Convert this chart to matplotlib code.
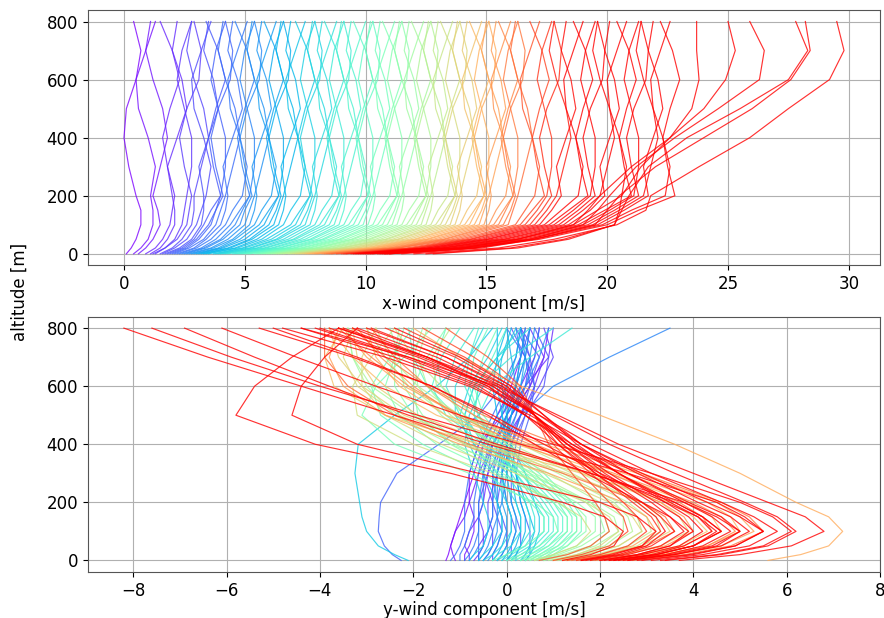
import numpy as np
import matplotlib
matplotlib.use("Agg")
import matplotlib.pyplot as plt
from matplotlib import colors

# altitude levels of the profiles [m]
altitude = [0, 20, 50, 100, 150, 200, 300, 400, 500, 600, 700, 800]

# x-wind component profiles [m/s], one row per profile, grouped by speed
x_purple = [
    [0.1, 0.3, 0.5, 0.7, 0.7, 0.5, 0.2, 0.0, 0.1, 0.5, 0.7, 0.4],
    [0.4, 0.7, 1.0, 1.2, 1.2, 1.1, 1.3, 1.0, 0.6, 0.5, 0.9, 1.3],
    [0.6, 0.9, 1.2, 1.5, 1.4, 1.2, 1.5, 1.8, 1.6, 1.2, 0.9, 1.1],
    [0.9, 1.3, 1.6, 1.9, 2.0, 2.1, 1.8, 1.6, 1.9, 2.3, 2.0, 1.5],
    [1.1, 1.5, 1.8, 2.1, 2.1, 2.0, 1.8, 2.2, 2.6, 2.4, 2.0, 2.2],
    [1.3, 1.7, 2.1, 2.4, 2.5, 2.6, 2.8, 2.8, 2.5, 2.2, 2.4, 2.8],
    [1.2, 1.7, 2.2, 2.6, 2.7, 2.8, 2.5, 2.3, 2.6, 3.1, 3.2, 2.9],
    [1.5, 2.0, 2.4, 2.8, 2.9, 2.9, 3.2, 3.5, 3.3, 2.9, 2.6, 2.8],
    [1.6, 2.1, 2.6, 3.0, 3.2, 3.4, 3.6, 3.3, 2.9, 2.8, 3.2, 3.6],
    [1.7, 2.3, 2.8, 3.2, 3.3, 3.3, 3.1, 3.5, 3.9, 3.7, 3.3, 3.5],
    [1.8, 2.4, 2.9, 3.3, 3.6, 4.0, 3.7, 3.5, 3.8, 4.2, 3.9, 3.4],
    [1.9, 2.5, 3.0, 3.5, 3.8, 4.0, 4.2, 4.2, 3.9, 3.6, 3.8, 4.2],
]
x_blue = [
    [2.0, 2.6, 3.1, 3.6, 3.8, 4.1, 3.8, 3.6, 3.9, 4.4, 4.5, 4.2],
    [2.1, 2.7, 3.3, 3.8, 4.0, 4.2, 4.5, 4.8, 4.6, 4.2, 3.9, 4.1],
    [2.2, 2.9, 3.4, 4.0, 4.2, 4.3, 4.1, 4.5, 4.9, 4.7, 4.3, 4.5],
    [2.3, 3.0, 3.6, 4.2, 4.5, 4.9, 5.1, 4.8, 4.4, 4.3, 4.7, 5.1],
    [2.4, 3.2, 3.8, 4.4, 4.8, 5.2, 4.9, 4.7, 5.0, 5.4, 5.1, 4.6],
    [2.5, 3.3, 4.0, 4.6, 4.9, 5.2, 5.4, 5.4, 5.1, 4.8, 5.0, 5.4],
    [2.6, 3.4, 4.1, 4.8, 5.0, 5.3, 5.0, 4.8, 5.1, 5.6, 5.7, 5.4],
    [2.7, 3.6, 4.3, 5.0, 5.2, 5.4, 5.7, 6.0, 5.8, 5.4, 5.1, 5.3],
    [2.8, 3.7, 4.5, 5.2, 5.4, 5.5, 5.3, 5.7, 6.1, 5.9, 5.5, 5.7],
    [2.9, 3.9, 4.6, 5.4, 5.7, 6.1, 6.3, 6.0, 5.6, 5.5, 5.9, 6.3],
    [3.0, 4.0, 4.8, 5.6, 6.0, 6.4, 6.1, 5.9, 6.2, 6.6, 6.3, 5.8],
    [3.1, 4.1, 5.0, 5.8, 6.1, 6.4, 6.6, 6.6, 6.3, 6.0, 6.2, 6.6],
    [3.2, 4.3, 5.2, 6.0, 6.3, 6.5, 6.2, 6.0, 6.3, 6.8, 6.9, 6.6],
    [3.3, 4.4, 5.3, 6.2, 6.4, 6.6, 6.9, 7.2, 7.0, 6.6, 6.3, 6.5],
    [3.4, 4.6, 5.5, 6.4, 6.6, 6.7, 6.5, 6.9, 7.3, 7.1, 6.7, 6.9],
    [3.5, 4.7, 5.7, 6.6, 6.9, 7.3, 7.5, 7.2, 6.8, 6.7, 7.1, 7.5],
]
x_cyan = [
    [3.7, 4.9, 5.9, 6.9, 7.3, 7.7, 7.4, 7.2, 7.5, 7.9, 7.6, 7.1],
    [3.8, 5.0, 6.1, 7.1, 7.4, 7.7, 7.9, 7.9, 7.6, 7.3, 7.5, 7.9],
    [3.9, 5.2, 6.3, 7.3, 7.6, 7.8, 7.5, 7.3, 7.6, 8.1, 8.2, 7.9],
    [4.0, 5.3, 6.4, 7.5, 7.7, 7.9, 8.2, 8.5, 8.3, 7.9, 7.6, 7.8],
    [4.1, 5.5, 6.6, 7.7, 7.9, 8.0, 7.8, 8.2, 8.6, 8.4, 8.0, 8.2],
    [4.2, 5.6, 6.8, 7.9, 8.2, 8.6, 8.8, 8.5, 8.1, 8.0, 8.4, 8.8],
    [4.3, 5.8, 7.0, 8.1, 8.5, 8.9, 8.6, 8.4, 8.7, 9.1, 8.8, 8.3],
    [4.5, 5.9, 7.1, 8.3, 8.6, 8.9, 9.1, 9.1, 8.8, 8.5, 8.7, 9.1],
    [4.6, 6.1, 7.3, 8.5, 8.8, 9.0, 8.7, 8.5, 8.8, 9.3, 9.4, 9.1],
    [4.7, 6.2, 7.5, 8.7, 8.9, 9.1, 9.4, 9.7, 9.5, 9.1, 8.8, 9.0],
    [4.8, 6.4, 7.7, 8.9, 9.1, 9.2, 9.0, 9.4, 9.8, 9.6, 9.2, 9.4],
    [4.9, 6.5, 7.8, 9.1, 9.4, 9.8, 10.0, 9.7, 9.3, 9.2, 9.6, 10.0],
    [5.0, 6.7, 8.0, 9.3, 9.7, 10.1, 9.8, 9.6, 9.9, 10.3, 10.0, 9.5],
    [5.1, 6.8, 8.2, 9.5, 9.8, 10.1, 10.3, 10.3, 10.0, 9.7, 9.9, 10.3],
    [5.2, 7.0, 8.3, 9.7, 10.0, 10.2, 9.9, 9.7, 10.0, 10.5, 10.6, 10.3],
    [5.4, 7.1, 8.5, 9.9, 10.1, 10.3, 10.6, 10.9, 10.7, 10.3, 10.0, 10.2],
]
x_green = [
    [5.5, 7.3, 8.7, 10.1, 10.3, 10.4, 10.2, 10.6, 11.0, 10.8, 10.4, 10.6],
    [5.6, 7.4, 8.9, 10.3, 10.6, 11.0, 11.2, 10.9, 10.5, 10.4, 10.8, 11.2],
    [5.7, 7.6, 9.0, 10.5, 10.9, 11.3, 11.0, 10.8, 11.1, 11.5, 11.2, 10.7],
    [5.8, 7.7, 9.2, 10.7, 11.0, 11.3, 11.5, 11.5, 11.2, 10.9, 11.1, 11.5],
    [5.9, 7.9, 9.4, 10.9, 11.2, 11.4, 11.1, 10.9, 11.2, 11.7, 11.8, 11.5],
    [6.0, 8.0, 9.5, 11.1, 11.3, 11.5, 11.8, 12.1, 11.9, 11.5, 11.2, 11.4],
    [6.1, 8.1, 9.7, 11.3, 11.5, 11.6, 11.4, 11.8, 12.2, 12.0, 11.6, 11.8],
    [6.2, 8.3, 9.9, 11.5, 11.8, 12.2, 12.4, 12.1, 11.7, 11.6, 12.0, 12.4],
    [6.3, 8.4, 10.1, 11.7, 12.1, 12.5, 12.2, 12.0, 12.3, 12.7, 12.4, 11.9],
    [6.4, 8.6, 10.2, 11.9, 12.2, 12.5, 12.7, 12.7, 12.4, 12.1, 12.3, 12.7],
    [6.5, 8.7, 10.4, 12.1, 12.4, 12.6, 12.3, 12.1, 12.4, 12.9, 13.0, 12.7],
    [6.6, 8.9, 10.6, 12.3, 12.5, 12.7, 13.0, 13.3, 13.1, 12.7, 12.4, 12.6],
    [6.8, 9.0, 10.8, 12.5, 12.7, 12.8, 12.6, 13.0, 13.4, 13.2, 12.8, 13.0],
    [6.9, 9.1, 10.9, 12.7, 13.0, 13.4, 13.6, 13.3, 12.9, 12.8, 13.2, 13.6],
    [7.0, 9.3, 11.1, 12.9, 13.3, 13.7, 13.4, 13.2, 13.5, 13.9, 13.6, 13.1],
    [7.1, 9.4, 11.3, 13.1, 13.4, 13.7, 13.9, 13.9, 13.6, 13.3, 13.5, 13.9],
]
x_orange = [
    [7.2, 9.6, 11.4, 13.3, 13.6, 13.8, 13.5, 13.3, 13.6, 14.1, 14.2, 13.9],
    [7.3, 9.7, 11.6, 13.5, 13.7, 13.9, 14.2, 14.5, 14.3, 13.9, 13.6, 13.8],
    [7.4, 9.9, 11.8, 13.7, 13.9, 14.0, 13.8, 14.2, 14.6, 14.4, 14.0, 14.2],
    [7.5, 10.0, 12.0, 13.9, 14.2, 14.6, 14.8, 14.5, 14.1, 14.0, 14.4, 14.8],
    [7.6, 10.2, 12.1, 14.1, 14.5, 14.9, 14.6, 14.4, 14.7, 15.1, 14.8, 14.3],
    [7.7, 10.3, 12.3, 14.3, 14.6, 14.9, 15.1, 15.1, 14.8, 14.5, 14.7, 15.1],
    [7.8, 10.4, 12.5, 14.5, 14.8, 15.0, 14.7, 14.5, 14.8, 15.3, 15.4, 15.1],
    [7.9, 10.6, 12.6, 14.7, 14.9, 15.1, 15.4, 15.7, 15.5, 15.1, 14.8, 15.0],
    [8.0, 10.7, 12.8, 14.9, 15.1, 15.2, 15.0, 15.4, 15.8, 15.6, 15.2, 15.4],
    [8.2, 10.9, 13.0, 15.1, 15.4, 15.8, 16.0, 15.7, 15.3, 15.2, 15.6, 16.0],
    [8.3, 11.0, 13.2, 15.3, 15.7, 16.1, 15.8, 15.6, 15.9, 16.3, 16.0, 15.5],
    [8.4, 11.2, 13.3, 15.5, 15.8, 16.1, 16.3, 16.3, 16.0, 15.7, 15.9, 16.3],
    [8.5, 11.3, 13.5, 15.7, 16.0, 16.2, 15.9, 15.7, 16.0, 16.5, 16.6, 16.3],
    [8.6, 11.4, 13.7, 15.9, 16.1, 16.3, 16.6, 16.9, 16.7, 16.3, 16.0, 16.2],
]
x_red = [
    [8.8, 11.7, 13.9, 16.2, 16.6, 17.0, 17.2, 16.9, 16.5, 16.4, 16.8, 17.2],
    [9.0, 11.9, 14.1, 16.4, 16.9, 17.4, 17.1, 16.9, 17.2, 17.6, 17.3, 16.8],
    [9.1, 12.0, 14.3, 16.6, 17.1, 17.5, 17.7, 17.7, 17.4, 17.1, 17.3, 17.7],
    [9.2, 12.2, 14.4, 16.8, 17.3, 17.7, 17.4, 17.2, 17.5, 18.0, 18.1, 17.8],
    [9.4, 12.3, 14.6, 17.0, 17.5, 17.9, 18.2, 18.5, 18.3, 17.9, 17.6, 17.8],
    [9.5, 12.5, 14.8, 17.2, 17.7, 18.1, 17.9, 18.3, 18.7, 18.5, 18.1, 18.3],
    [9.6, 12.6, 15.0, 17.4, 18.1, 18.8, 19.0, 18.7, 18.3, 18.2, 18.6, 19.0],
    [9.7, 12.8, 15.1, 17.6, 18.4, 19.2, 18.9, 18.7, 19.0, 19.4, 19.1, 18.6],
    [9.8, 12.9, 15.3, 17.8, 18.6, 19.3, 19.5, 19.5, 19.2, 18.9, 19.1, 19.5],
    [9.9, 13.1, 15.5, 18.0, 18.8, 19.5, 19.2, 19.0, 19.3, 19.8, 19.9, 19.6],
    [10.0, 13.2, 15.7, 18.2, 19.0, 19.7, 20.0, 20.3, 20.1, 19.7, 19.4, 19.6],
    [10.1, 13.3, 15.8, 18.4, 19.3, 19.9, 19.7, 20.1, 20.5, 20.3, 19.9, 20.1],
    [10.2, 13.5, 16.0, 18.6, 19.6, 20.6, 20.8, 20.5, 20.1, 20.0, 20.4, 20.8],
    [10.3, 13.6, 16.2, 18.8, 19.9, 21.0, 20.7, 20.5, 20.8, 21.2, 20.9, 20.4],
    [10.5, 13.8, 16.3, 19.0, 20.1, 21.1, 21.3, 21.3, 21.0, 20.7, 20.9, 21.3],
    [10.6, 13.9, 16.5, 19.2, 20.3, 21.3, 21.0, 20.8, 21.1, 21.6, 21.7, 21.4],
    [10.7, 14.1, 16.7, 19.4, 20.5, 21.5, 21.8, 22.1, 21.9, 21.5, 21.2, 21.4],
    [10.8, 14.2, 16.9, 19.6, 20.7, 21.7, 21.5, 21.9, 22.3, 22.1, 21.7, 21.9],
    [10.9, 14.4, 17.0, 19.8, 21.0, 22.4, 22.6, 22.3, 21.9, 21.8, 22.2, 22.6],
    [11.0, 14.5, 17.2, 20.0, 21.3, 22.8, 22.5, 22.3, 22.6, 23.0, 22.7, 22.2],
    [12.8, 16.3, 18.4, 20.3, 20.5, 20.6, 21.4, 22.6, 23.5, 23.8, 23.7, 23.7],
    [10.8, 14.0, 16.3, 18.6, 19.2, 19.7, 21.0, 22.6, 24.0, 24.9, 25.3, 25.0],
    [11.0, 14.5, 16.8, 19.0, 19.6, 20.1, 21.2, 22.8, 24.6, 26.3, 26.5, 25.9],
    [12.5, 16.0, 18.2, 20.3, 20.6, 20.9, 21.7, 23.3, 25.5, 27.5, 28.3, 27.8],
    [11.5, 14.8, 17.0, 19.5, 20.0, 20.5, 22.0, 24.0, 26.0, 27.6, 28.4, 28.2],
    [12.0, 15.5, 17.8, 20.4, 21.6, 21.8, 23.8, 25.9, 27.5, 29.2, 29.8, 29.5],
]

# y-wind component profiles [m/s], same order as above
y_purple = [
    [-1.3, -1.25, -1.2, -1.1, -1.0, -0.9, -0.7, -0.5, -0.2, 0.1, 0.3, 0.4],
    [-1.1, -1.15, -1.2, -1.1, -0.9, -0.8, -0.8, -0.6, -0.1, 0.3, 0.6, 0.7],
    [-0.9, -0.9, -0.8, -0.7, -0.7, -0.8, -0.6, -0.3, 0.1, 0.5, 0.8, 0.9],
    [-0.8, -0.8, -0.9, -0.8, -0.6, -0.5, -0.4, -0.3, 0.0, 0.4, 0.9, 1.0],
    [-0.7, -0.6, -0.5, -0.5, -0.6, -0.6, -0.4, -0.1, 0.3, 0.6, 0.8, 0.5],
    [-0.6, -0.6, -0.6, -0.4, -0.3, -0.3, -0.5, -0.3, 0.1, 0.5, 0.7, 0.3],
    [-0.5, -0.4, -0.3, -0.3, -0.4, -0.4, -0.2, 0.0, 0.3, 0.7, 1.0, 0.8],
    [-0.3, -0.3, -0.2, -0.1, -0.2, -0.3, -0.3, -0.1, 0.2, 0.4, 0.5, 0.2],
    [-0.2, -0.1, 0.0, 0.0, -0.1, -0.2, -0.1, 0.1, 0.3, 0.5, 0.4, 0.1],
    [0.0, 0.1, 0.1, 0.2, 0.1, 0.0, -0.1, 0.1, 0.4, 0.8, 0.9, 0.6],
    [0.2, 0.2, 0.3, 0.3, 0.2, 0.1, 0.1, 0.2, 0.4, 0.6, 0.5, 0.3],
    [0.4, 0.5, 0.5, 0.5, 0.4, 0.3, 0.2, 0.3, 0.5, 0.6, 0.4, 0.0],
]
y_blue = [
    [-2.26, -2.45, -2.62, -2.75, -2.73, -2.7, -2.35, -1.45, -0.6, -0.1, 0.2, 0.3],
    [-1.2, -1.1, -1.0, -0.9, -0.9, -0.9, -0.8, -0.6, -0.3, 0.0, 0.3, 0.5],
    [-1.0, -1.0, -0.9, -0.8, -0.7, -0.7, -0.6, -0.5, -0.2, 0.2, 0.4, 0.5],
    [-0.9, -0.8, -0.7, -0.6, -0.6, -0.5, -0.5, -0.4, -0.1, 0.2, 0.3, 0.2],
    [-0.8, -0.7, -0.6, -0.6, -0.6, -0.6, -0.5, -0.3, 0.0, 0.4, 0.6, 0.7],
    [-0.6, -0.5, -0.4, -0.3, -0.2, -0.1, 0.0, 0.1, 0.3, 1.0, 2.2, 3.5],
    [-0.6, -0.6, -0.5, -0.4, -0.3, -0.3, -0.2, -0.1, 0.1, 0.4, 0.7, 0.9],
    [-0.5, -0.4, -0.3, -0.2, -0.2, -0.2, -0.3, -0.2, 0.0, 0.2, 0.4, 0.5],
    [-0.4, -0.3, -0.2, -0.1, -0.1, -0.2, -0.2, -0.1, 0.1, 0.3, 0.5, 0.6],
    [-0.3, -0.2, -0.1, 0.0, 0.0, -0.1, -0.1, 0.0, 0.2, 0.3, 0.4, 0.3],
    [-0.2, -0.1, 0.0, 0.1, 0.1, 0.0, -0.1, -0.1, 0.0, 0.2, 0.3, 0.4],
    [-0.1, 0.0, 0.1, 0.2, 0.2, 0.1, 0.0, 0.0, 0.1, 0.2, 0.1, 0.0],
    [0.0, 0.1, 0.2, 0.3, 0.3, 0.2, 0.1, 0.0, -0.1, 0.0, 0.2, 0.3],
    [0.1, 0.2, 0.3, 0.4, 0.4, 0.3, 0.2, 0.1, 0.0, -0.1, -0.2, -0.2],
    [0.3, 0.4, 0.5, 0.6, 0.5, 0.4, 0.2, 0.0, -0.2, -0.3, -0.2, 0.0],
    [0.4, 0.5, 0.6, 0.7, 0.7, 0.6, 0.4, 0.1, -0.1, -0.2, -0.1, 0.1],
]
y_cyan = [
    [-2.11, -2.4, -2.75, -3.0, -3.1, -3.15, -3.25, -3.18, -2.4, -1.5, -0.8, -0.3],
    [-0.8, -0.7, -0.5, -0.4, -0.4, -0.5, -0.7, -0.9, -0.8, -0.5, -0.1, 0.2],
    [-0.6, -0.5, -0.3, -0.1, -0.1, -0.2, -0.5, -0.8, -1.0, -0.8, -0.4, -0.1],
    [-0.5, -0.3, -0.1, 0.1, 0.1, 0.0, -0.3, -0.7, -0.9, -0.7, -0.2, 0.3],
    [-0.3, -0.2, 0.1, 0.3, 0.3, 0.2, -0.2, -0.7, -1.1, -1.1, -0.8, -0.5],
    [-0.2, 0.0, 0.3, 0.5, 0.5, 0.4, 0.0, -0.5, -0.9, -0.7, -0.2, 0.5],
    [-0.1, 0.1, 0.4, 0.6, 0.6, 0.5, 0.1, -0.4, -0.7, -0.6, 0.1, 1.0],
    [0.0, 0.2, 0.5, 0.8, 0.8, 0.6, 0.2, -0.3, -0.6, -0.3, 0.5, 1.4],
    [0.1, 0.3, 0.6, 0.9, 0.9, 0.7, 0.2, -0.4, -1.0, -1.3, -1.1, -0.7],
    [0.2, 0.4, 0.7, 1.0, 1.0, 0.8, 0.3, -0.2, -0.6, -0.9, -0.8, -0.6],
    [0.3, 0.5, 0.8, 1.1, 1.1, 0.9, 0.3, -0.5, -1.3, -1.6, -1.4, -1.0],
    [0.4, 0.6, 0.9, 1.2, 1.2, 1.0, 0.4, -0.2, -0.7, -0.6, -0.3, 0.0],
    [0.5, 0.7, 1.0, 1.3, 1.3, 1.1, 0.5, -0.3, -1.1, -1.7, -2.0, -2.1],
    [0.6, 0.8, 1.1, 1.4, 1.4, 1.2, 0.6, -0.1, -0.6, -0.8, -0.7, -0.4],
    [0.7, 0.9, 1.2, 1.5, 1.5, 1.3, 0.7, -0.1, -0.9, -1.4, -1.5, -1.3],
    [0.8, 1.0, 1.3, 1.6, 1.6, 1.4, 0.8, 0.0, -0.5, -0.7, -0.5, -0.2],
]
y_green = [
    [-0.3, 0.0, 0.4, 0.8, 0.8, 0.5, -0.5, -1.8, -2.7, -2.9, -2.5, -2.0],
    [0.0, 0.3, 0.7, 1.1, 1.0, 0.6, -0.8, -2.4, -3.1, -2.8, -2.2, -1.6],
    [0.1, 0.5, 0.9, 1.3, 1.3, 1.0, -0.2, -1.5, -2.3, -2.6, -2.4, -2.2],
    [0.3, 0.7, 1.1, 1.5, 1.5, 1.1, -0.1, -1.2, -1.9, -2.0, -1.7, -1.3],
    [0.4, 0.8, 1.3, 1.7, 1.7, 1.4, 0.2, -1.1, -2.0, -2.4, -2.4, -2.3],
    [0.5, 1.0, 1.5, 1.9, 1.9, 1.5, 0.3, -0.9, -1.8, -2.2, -2.3, -2.5],
    [0.6, 1.1, 1.6, 2.1, 2.0, 1.7, 0.5, -0.6, -1.4, -1.9, -2.0, -1.8],
    [0.7, 1.2, 1.8, 2.2, 2.1, 1.8, 0.4, -1.2, -2.4, -3.0, -3.3, -3.4],
    [0.8, 1.3, 1.9, 2.4, 2.3, 1.8, 0.6, -0.8, -2.0, -2.9, -3.3, -3.4],
    [0.9, 1.5, 2.1, 2.5, 2.5, 2.0, 0.9, -0.3, -1.2, -1.7, -1.9, -1.7],
    [1.0, 1.6, 2.2, 2.7, 2.6, 2.3, 1.1, -0.2, -1.3, -2.1, -2.6, -3.0],
    [1.1, 1.7, 2.4, 2.9, 2.8, 2.4, 1.2, 0.0, -0.9, -1.5, -1.6, -1.2],
    [1.2, 1.9, 2.6, 3.1, 3.0, 2.6, 1.4, 0.1, -1.0, -1.9, -2.5, -2.8],
    [1.3, 2.1, 2.8, 3.3, 3.2, 2.8, 1.6, 0.3, -0.7, -1.4, -2.0, -2.4],
    [0.6, 1.0, 1.5, 1.8, 1.6, 1.1, -0.3, -2.0, -3.2, -3.3, -2.9, -2.4],
    [1.0, 1.5, 2.0, 2.4, 2.2, 1.7, 0.2, -1.4, -2.6, -3.1, -3.1, -2.8],
]
y_orange = [
    [1.0, 1.7, 2.4, 2.9, 2.7, 2.2, 0.8, -0.9, -2.3, -3.2, -3.5, -3.3],
    [1.3, 2.1, 2.9, 3.5, 3.3, 2.9, 1.3, -0.6, -2.2, -3.1, -3.6, -3.8],
    [1.5, 2.4, 3.3, 3.9, 3.7, 3.3, 1.7, -0.3, -1.9, -2.8, -3.2, -3.3],
    [1.8, 2.8, 3.7, 4.3, 4.0, 3.5, 1.6, -0.6, -2.6, -3.7, -3.9, -3.5],
    [2.0, 3.0, 4.0, 4.6, 4.4, 3.9, 2.2, 0.2, -1.5, -2.6, -3.3, -3.8],
    [2.2, 3.3, 4.3, 5.0, 4.8, 4.3, 2.5, 0.4, -1.3, -2.3, -2.8, -3.0],
    [5.6, 6.3, 6.9, 7.2, 6.9, 6.2, 5.0, 3.6, 2.0, 0.3, -1.0, -2.0],
    [2.5, 3.6, 4.6, 5.3, 5.0, 4.5, 2.8, 0.8, -1.0, -2.2, -3.0, -3.5],
    [1.2, 2.0, 2.7, 3.2, 3.0, 2.5, 0.9, -1.0, -2.6, -3.5, -3.8, -3.6],
    [1.6, 2.5, 3.4, 4.0, 3.8, 3.3, 1.9, 0.3, -1.1, -2.0, -2.7, -3.2],
    [2.4, 3.4, 4.3, 4.9, 4.6, 4.0, 2.3, 0.5, -1.0, -2.1, -2.9, -3.6],
    [1.9, 2.9, 3.8, 4.4, 4.2, 3.7, 2.2, 0.6, -0.7, -1.7, -2.4, -2.9],
    [2.7, 3.8, 4.8, 5.5, 5.2, 4.6, 2.9, 1.1, -0.5, -1.7, -2.6, -3.3],
    [1.4, 2.2, 3.0, 3.6, 3.4, 2.9, 1.2, -0.8, -2.4, -3.4, -3.9, -3.9],
]
y_red = [
    [0.7, 1.3, 1.8, 2.2, 2.1, 1.9, 1.4, 0.9, 0.6, 0.3, -0.4, -1.3],
    [1.0, 1.6, 2.2, 2.6, 2.5, 2.2, 1.6, 1.0, 0.6, 0.2, -0.7, -1.8],
    [1.3, 2.0, 2.6, 3.0, 2.8, 2.5, 1.8, 1.1, 0.6, 0.1, -0.9, -2.2],
    [1.5, 2.2, 2.9, 3.3, 3.1, 2.7, 1.9, 1.2, 0.6, 0.0, -1.1, -2.6],
    [1.7, 2.5, 3.1, 3.6, 3.3, 2.9, 2.0, 1.2, 0.6, -0.1, -1.3, -2.9],
    [1.8, 2.6, 3.3, 3.8, 3.5, 3.1, 2.1, 1.3, 0.6, -0.2, -1.5, -3.2],
    [2.0, 2.8, 3.5, 4.0, 3.7, 3.2, 2.2, 1.3, 0.6, -0.3, -1.7, -3.5],
    [2.1, 2.9, 3.7, 4.2, 3.9, 3.4, 2.4, 1.5, 0.8, 0.1, -1.0, -2.4],
    [2.2, 3.1, 3.8, 4.4, 4.1, 3.5, 2.4, 1.4, 0.6, -0.4, -1.9, -3.8],
    [2.3, 3.2, 4.0, 4.6, 4.2, 3.6, 2.4, 1.3, 0.4, -0.6, -2.2, -4.1],
    [2.4, 3.4, 4.2, 4.8, 4.4, 3.8, 2.6, 1.6, 0.8, 0.0, -1.3, -3.0],
    [2.5, 3.5, 4.4, 5.0, 4.6, 3.9, 2.6, 1.4, 0.4, -0.7, -2.4, -4.4],
    [2.6, 3.6, 4.6, 5.2, 4.8, 4.1, 2.8, 1.6, 0.7, -0.3, -1.8, -3.6],
    [2.9, 4.0, 4.9, 5.5, 5.0, 4.3, 2.9, 1.6, 0.5, -0.8, -2.6, -4.8],
    [3.1, 4.2, 5.2, 5.8, 5.3, 4.6, 3.1, 1.8, 0.7, -0.5, -2.1, -4.0],
    [3.4, 4.6, 5.6, 6.2, 5.8, 5.1, 3.6, 2.2, 1.0, -0.1, -1.7, -3.6],
    [3.7, 5.0, 6.1, 6.8, 6.4, 5.6, 4.0, 2.4, 1.1, -0.2, -2.1, -4.4],
    [1.6, 2.4, 3.0, 3.4, 3.2, 2.8, 1.9, 1.1, 0.4, -0.4, -1.7, -3.3],
    [2.3, 3.2, 4.0, 4.5, 4.1, 3.4, 2.0, 0.8, -0.3, -1.6, -3.3, -5.3],
    [2.0, 2.8, 3.5, 3.9, 3.5, 2.9, 1.7, 0.6, -0.4, -1.6, -3.2, -5.0],
    [1.2, 1.8, 2.3, 2.5, 2.1, 1.2, -1.2, -4.1, -5.8, -5.4, -4.6, -3.6],
    [1.6, 2.3, 2.9, 3.2, 2.8, 2.0, -0.6, -3.2, -4.6, -4.4, -3.9, -3.2],
    [3.3, 4.5, 5.5, 6.1, 5.7, 5.0, 3.1, 1.0, -1.0, -2.8, -4.5, -6.1],
    [2.2, 3.2, 4.0, 4.6, 4.2, 3.6, 1.8, -0.2, -2.1, -3.8, -5.4, -6.9],
    [2.8, 3.9, 4.9, 5.5, 5.1, 4.5, 2.6, 0.3, -1.9, -4.0, -5.9, -7.6],
    [2.6, 3.6, 4.5, 5.0, 4.5, 3.8, 1.8, -0.4, -2.4, -4.4, -6.4, -8.2],
]

z = np.array(altitude)
xw = np.array(x_purple + x_blue + x_cyan + x_green + x_orange + x_red)
yw = np.array(y_purple + y_blue + y_cyan + y_green + y_orange + y_red)

# colour each profile by its mean x-wind
norm = colors.PowerNorm(gamma=1.35, vmin=0, vmax=16.8, clip=True)
cmap = plt.get_cmap("rainbow")

fig, (ax1, ax2) = plt.subplots(2, 1, figsize=(8.84, 6.18), dpi=100)
fig.subplots_adjust(left=0.0995, right=0.9955, top=0.984, bottom=0.0744, hspace=0.2)

for i in range(len(xw)):
    c = cmap(norm(xw[i].mean()))
    ax1.plot(xw[i], z, color=c, lw=0.85, alpha=0.8)
    ax2.plot(yw[i], z, color=c, lw=0.85, alpha=0.8)

for ax in (ax1, ax2):
    ax.grid(True, color="#b0b0b0", lw=0.8)
    ax.set_axisbelow(True)
    ax.tick_params(labelsize=12)
    ax.set_yticks([0, 200, 400, 600, 800])
    for s in ax.spines.values():
        s.set_color("#555555")

ax1.set_xticks([0, 5, 10, 15, 20, 25, 30])
ax2.set_xticks([-8, -6, -4, -2, 0, 2, 4, 6, 8])
ax1.set_xlabel("x-wind component [m/s]", fontsize=12, labelpad=1)
ax2.set_xlabel("y-wind component [m/s]", fontsize=12, labelpad=1)
fig.text(0.022, 0.527, "altitude [m]", rotation=90, ha="center", va="center", fontsize=12)

fig.savefig("out.png", dpi=100)
